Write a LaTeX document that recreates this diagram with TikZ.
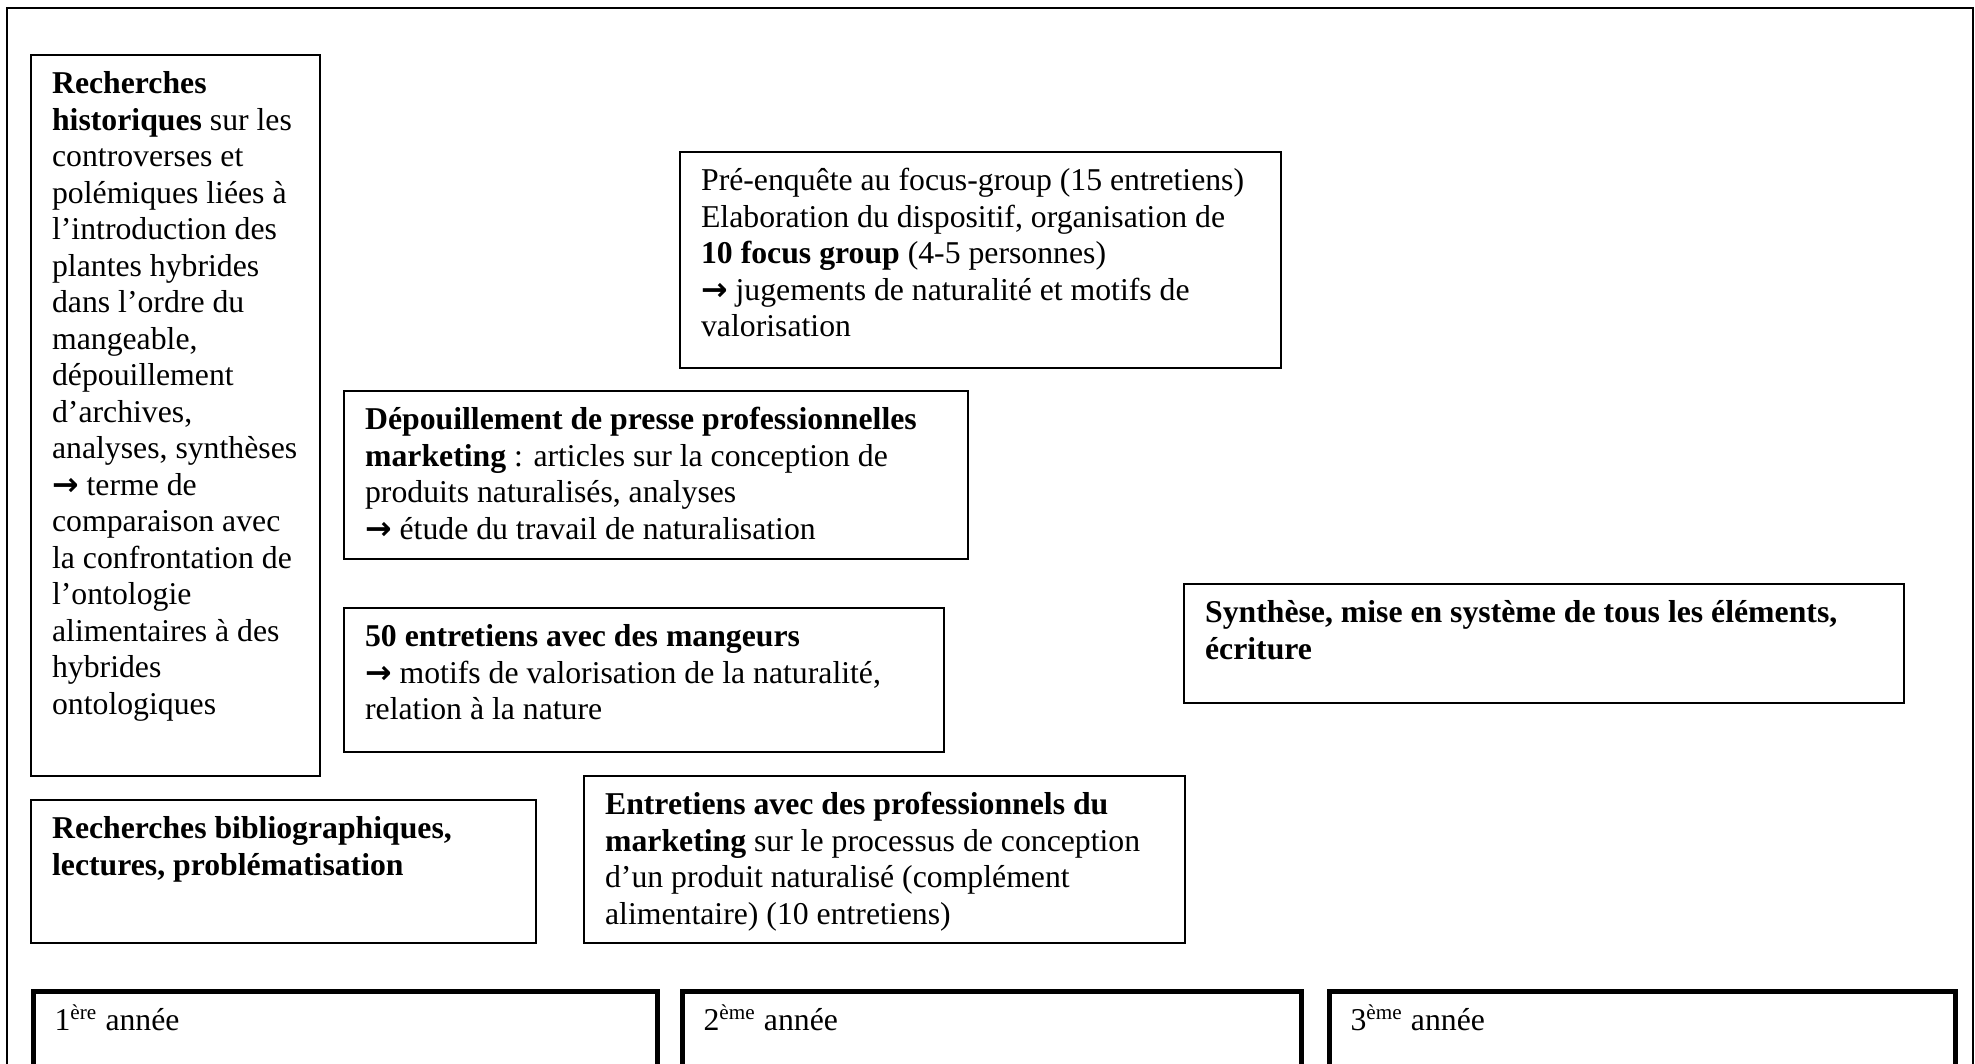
\documentclass[tikz,border=0pt]{standalone}
\usepackage{fontspec}
\setmainfont{Liberation Serif}
\newfontfamily\symb{DejaVu Sans}
\newcommand{\fleche}{{\symb\bfseries →}}
\newcommand{\cadre}[3]{\parbox[c][#2][t]{#1}{\raggedright\strut#3}}
\tikzset{
  boite/.style={draw, line width=0.7pt, anchor=north west, inner xsep=8pt, inner ysep=5pt,
    font=\fontsize{12}{13.8}\selectfont},
  annee/.style={boite, line width=1.8pt, inner ysep=5pt}
}

\begin{document}
\begin{tikzpicture}[x=0.378pt, y=-0.378pt]
\useasboundingbox (0,0) rectangle (1975,1063);
\clip (0,0) rectangle (1975,1063);
\draw[line width=0.7pt] (7,1090) -- (7,8) -- (1973,8) -- (1973,1090);

\node[boite] (hist) at (30,54) {\cadre{93.2pt}{262.5pt}{\textbf{Recherches}\\
  \textbf{historiques} sur les\\ controverses et\\ polémiques liées à\\
  l’introduction des\\ plantes hybrides\\ dans l’ordre du\\ mangeable,\\
  dépouillement\\ d’archives,\\ analyses, synthèses\\ \fleche{} terme de\\
  comparaison avec\\ la confrontation de\\ l’ontologie\\ alimentaires à des\\
  hybrides\\ ontologiques}};
\node[boite] (pre) at (679,151) {\cadre{211.2pt}{71.6pt}{Pré-enquête au focus-group (15 entretiens)\\
  Elaboration du dispositif, organisation de\\ \textbf{10 focus group} (4-5 personnes)\\
  \fleche{} jugements de naturalité et motifs de\\ valorisation}};
\node[boite] (depo) at (343,390) {\cadre{219.9pt}{53.5pt}{\textbf{Dépouillement de presse professionnelles}\\
  \textbf{marketing} : articles sur la conception de\\ produits naturalisés, analyses\\
  \fleche{} étude du travail de naturalisation}};
\node[boite] (mang) at (343,607) {\cadre{210.8pt}{44.4pt}{\textbf{50 entretiens avec des mangeurs}\\
  \fleche{} motifs de valorisation de la naturalité,\\ relation à la nature}};
\node[boite] (synth) at (1183,583) {\cadre{256.2pt}{35pt}{\textbf{Synthèse, mise en système de tous les éléments,}\\
  \textbf{écriture}}};
\node[boite] (biblio) at (30,799) {\cadre{174.9pt}{44.1pt}{\textbf{Recherches bibliographiques,}\\
  \textbf{lectures, problématisation}}};
\node[boite] (pros) at (583,775) {\cadre{211.2pt}{53.1pt}{\textbf{Entretiens avec des professionnels du}\\
  \textbf{marketing} sur le processus de conception\\ d’un produit naturalisé (complément\\
  alimentaire) (10 entretiens)}};

\node[annee] (an1) at (31,989) {\cadre{219.8pt}{18.5pt}{1\textsuperscript{ère} année}};
\node[annee] (an2) at (680,989) {\cadre{218.1pt}{18.5pt}{2\textsuperscript{ème} année}};
\node[annee] (an3) at (1327,989) {\cadre{220.6pt}{18.5pt}{3\textsuperscript{ème} année}};
\end{tikzpicture}
\end{document}
